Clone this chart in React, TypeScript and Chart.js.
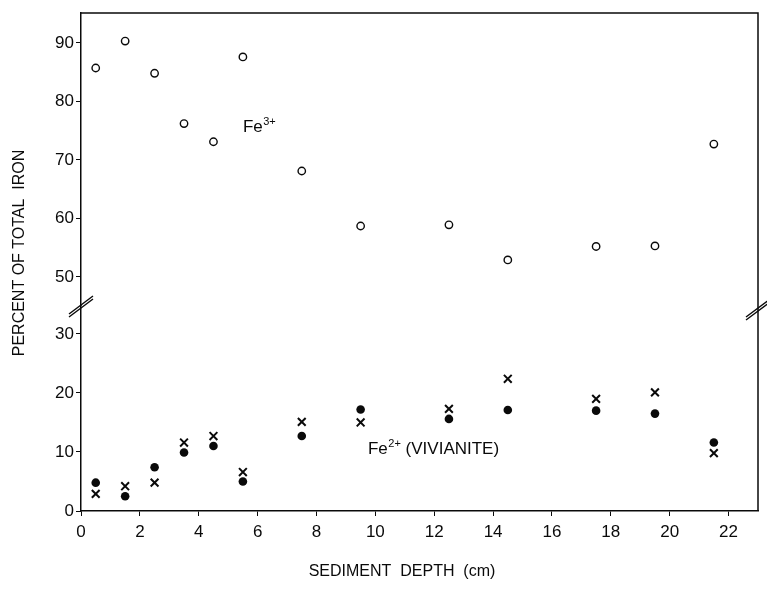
import React, { useEffect, useRef } from 'react';
import { Chart, registerables } from 'chart.js';

Chart.register(...registerables);

// ---- data ----
const depthCm = [0.5, 1.5, 2.5, 3.5, 4.5, 5.5, 7.5, 9.5, 12.5, 14.5, 17.5, 19.5, 21.5];
const fe3Percent = [85.7, 90.3, 84.8, 76.2, 73.1, 87.6, 68.1, 58.7, 58.9, 52.9, 55.2, 55.3, 72.7];
const fe2VivianitePercent = [4.8, 2.5, 7.4, 9.9, 11.0, 5.0, 12.7, 17.2, 15.6, 17.1, 17.0, 16.5, 11.6];
const fe2CrossPercent = [2.9, 4.2, 4.8, 11.6, 12.7, 6.6, 15.1, 15.0, 17.3, 22.4, 19.0, 20.1, 9.8];

const xTicks = [0, 2, 4, 6, 8, 10, 12, 14, 16, 18, 20, 22];
const yLowTicks = [0, 10, 20, 30];
const yHighTicks = [50, 60, 70, 80, 90];

const xRange = [0, 23];
const yLowRange = [0, 34.9];
const yHighRange = [45.2, 95.1];

const xTitle = 'SEDIMENT  DEPTH  (cm)';
const yTitle = 'PERCENT OF TOTAL  IRON';
const fe3Label = { base: 'Fe', sup: '3+', rest: '', x: 5.5, y: 74.8 };
const fe2Label = { base: 'Fe', sup: '2+', rest: ' (VIVIANITE)', x: 9.75, y: 9.66 };

const FONT = '"Liberation Sans", Arial, Helvetica, sans-serif';
const INK = '#0a0a0a';

function toPoints(ys: number[]) {
  return depthCm.map((x, i) => ({ x, y: ys[i] }));
}

const decorPlugin = {
  id: 'decor',
  afterDraw(chart: any) {
    const { ctx, chartArea: ca, scales } = chart;
    ctx.save();
    // top and right frame
    ctx.strokeStyle = INK;
    ctx.lineWidth = 1.5;
    ctx.beginPath();
    ctx.moveTo(ca.left, ca.top);
    ctx.lineTo(ca.right, ca.top);
    ctx.lineTo(ca.right, ca.bottom);
    ctx.stroke();

    // axis break marks
    const yb = scales.yLow.top;
    const drawBreak = (x: number, y: number) => {
      ctx.lineWidth = 1.4;
      ctx.beginPath();
      ctx.moveTo(x - 12, y + 11);
      ctx.lineTo(x + 12, y - 7);
      ctx.moveTo(x - 12, y + 8);
      ctx.lineTo(x + 12, y - 10);
      ctx.stroke();
    };
    drawBreak(ca.left, yb + 1);
    drawBreak(ca.right, yb + 4);

    // axis titles
    ctx.fillStyle = INK;
    ctx.font = `16px ${FONT}`;
    ctx.textAlign = 'center';
    ctx.textBaseline = 'middle';
    ctx.fillText(xTitle, 402, 572);
    ctx.save();
    ctx.translate(20, 253);
    ctx.rotate(-Math.PI / 2);
    ctx.fillText(yTitle, 0, 0);
    ctx.restore();

    // chemistry labels
    const drawChem = (lab: any, yScale: any) => {
      const px = scales.x.getPixelForValue(lab.x);
      const py = yScale.getPixelForValue(lab.y);
      ctx.textAlign = 'left';
      ctx.textBaseline = 'alphabetic';
      ctx.font = `17px ${FONT}`;
      ctx.fillText(lab.base, px, py);
      let cx = px + ctx.measureText(lab.base).width;
      ctx.font = `11px ${FONT}`;
      ctx.fillText(lab.sup, cx + 0.5, py - 7);
      cx += ctx.measureText(lab.sup).width + 0.5;
      ctx.font = `17px ${FONT}`;
      ctx.fillText(lab.rest, cx, py);
    };
    drawChem(fe3Label, scales.yHigh);
    drawChem(fe2Label, scales.yLow);
    ctx.restore();
  },
};

export default function App() {
  const ref = useRef<HTMLCanvasElement>(null);
  useEffect(() => {
    document.body.style.margin = '0';
    const tickFont = { family: FONT, size: 17 };
    const yCommon = (ticks: number[], range: number[], weight: number) => ({
      type: 'linear' as const,
      position: 'left' as const,
      stack: 'split',
      stackWeight: weight,
      min: range[0],
      max: range[1],
      afterBuildTicks: (s: any) => {
        s.ticks = ticks.map((v) => ({ value: v }));
      },
      afterFit: (s: any) => {
        s.width = 81;
      },
      grid: { drawOnChartArea: false, drawTicks: true, tickLength: 5, color: INK, lineWidth: 1 },
      border: { display: true, color: INK, width: 1.5 },
      ticks: { color: INK, font: tickFont, padding: 2 },
    });
    const chart = new Chart(ref.current!, {
      type: 'scatter',
      data: {
        datasets: [
          {
            label: 'Fe3+',
            data: toPoints(fe3Percent),
            yAxisID: 'yHigh',
            pointStyle: 'circle',
            pointRadius: 3.7,
            pointBorderWidth: 1.4,
            pointBackgroundColor: '#fff',
            pointBorderColor: INK,
            showLine: false,
          },
          {
            label: 'Fe2+ (vivianite)',
            data: toPoints(fe2VivianitePercent),
            yAxisID: 'yLow',
            pointStyle: 'circle',
            pointRadius: 4.3,
            pointBorderWidth: 0,
            pointBackgroundColor: INK,
            pointBorderColor: INK,
            showLine: false,
          },
          {
            label: 'Fe2+',
            data: toPoints(fe2CrossPercent),
            yAxisID: 'yLow',
            pointStyle: 'crossRot',
            pointRadius: 5.5,
            pointBorderWidth: 2,
            pointBackgroundColor: INK,
            pointBorderColor: INK,
            showLine: false,
          },
        ],
      },
      options: {
        responsive: false,
        animation: false,
        events: [],
        layout: { padding: { top: 13, right: 9, left: 0, bottom: 0 } },
        plugins: { legend: { display: false }, tooltip: { enabled: false } },
        scales: {
          x: {
            type: 'linear',
            position: 'bottom',
            min: xRange[0],
            max: xRange[1],
            afterBuildTicks: (s: any) => {
              s.ticks = xTicks.map((v) => ({ value: v }));
            },
            afterFit: (s: any) => {
              s.height = 78;
            },
            grid: { drawOnChartArea: false, drawTicks: true, tickLength: 5, color: INK, lineWidth: 1 },
            border: { display: true, color: INK, width: 1.5 },
            ticks: { color: INK, font: tickFont, padding: 6, maxRotation: 0, autoSkip: false },
          },
          yLow: yCommon(yLowTicks, yLowRange, 206),
          yHigh: yCommon(yHighTicks, yHighRange, 292),
        },
      },
      plugins: [decorPlugin],
    } as any);
    return () => chart.destroy();
  }, []);
  return (
    <div style={{ width: 767, height: 589, background: '#fff' }}>
      <canvas ref={ref} width={767} height={589} style={{ display: 'block' }} />
    </div>
  );
}
